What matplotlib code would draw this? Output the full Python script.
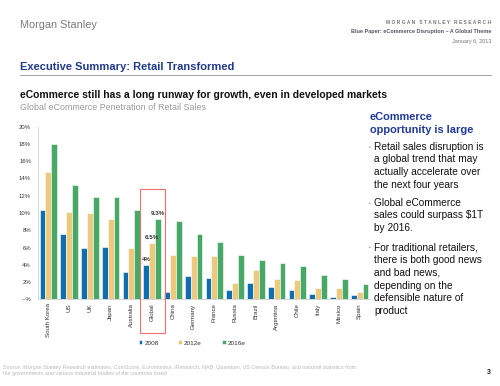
import matplotlib
matplotlib.use('Agg')
import matplotlib.pyplot as plt
from matplotlib.patches import Rectangle
import numpy as np

plt.rcParams['font.family'] = ['Liberation Sans', 'DejaVu Sans']

# data (% of retail sales)
countries = ['South Korea', 'US', 'UK', 'Japan', 'Australia', 'Global', 'China',
             'Germany', 'France', 'Russia', 'Brazil', 'Argentina', 'Chile',
             'Italy', 'Mexico', 'Spain']
pen_2008 = [10.4, 7.6, 5.9, 6.1, 3.2, 4.0, 0.8, 2.7, 2.5, 1.05, 1.85, 1.4, 1.1, 0.6, 0.25, 0.45]
pen_2012 = [14.7, 10.1, 10.0, 9.3, 5.9, 6.5, 5.1, 5.0, 5.05, 1.9, 3.4, 2.4, 2.2, 1.3, 1.35, 0.9]
pen_2016 = [18.0, 13.3, 11.8, 11.8, 10.3, 9.3, 9.1, 7.6, 6.6, 5.1, 4.5, 4.2, 3.9, 2.8, 2.3, 1.8]
series_names = ['2008', '2012e', '2016e']
yticks = [0, 2, 4, 6, 8, 10, 12, 14, 16, 18, 20]
highlight = 'Global'

colors = ['#0f6fae', '#ecc97c', '#47a965']

W, H = 500, 386
def fx(px): return px / W
def fy(py): return 1 - py / H

fig = plt.figure(figsize=(5, 3.86), dpi=100)

ax = fig.add_axes([fx(38), fy(299.3), fx(370) - fx(38), fy(126.7) - fy(299.3)])
x = np.arange(len(countries))
bw = 0.285
for k, (vals, name) in enumerate(zip([pen_2008, pen_2012, pen_2016], series_names)):
    ax.bar(x + (k - 1) * bw, vals, width=bw, color=colors[k], edgecolor='white',
           linewidth=0.4, label=name, zorder=2)

ax.set_xlim(-0.5, len(countries) - 0.5)
ax.set_ylim(0, 20)
ax.set_yticks(yticks)
ax.set_yticklabels(['–%' if t == 0 else f'{t}%' for t in yticks])
ax.set_xticks(x)
ax.set_xticklabels(countries, rotation=90, va='top', ha='center')
ax.tick_params(axis='y', length=0, pad=5, labelsize=4.3, labelcolor='#333333')
ax.tick_params(axis='x', length=0, pad=3, labelsize=4.4, labelcolor='#333333')
for s in ['top', 'right']:
    ax.spines[s].set_visible(False)
for s in ['left', 'bottom']:
    ax.spines[s].set_color('#d0d0d0')
    ax.spines[s].set_linewidth(0.6)

# highlight box and labels for Global
gi = countries.index(highlight)
ax.add_patch(Rectangle((gi - 0.6, -3.9), 1.22, 16.7, fill=False, edgecolor='#f07070',
                       linewidth=0.8, clip_on=False, zorder=3))
lbls = ['4%', '6.5%', '9.3%']
for k, vals in enumerate([pen_2008, pen_2012, pen_2016]):
    ax.text(gi + (k - 1) * bw, vals[gi] + 0.35, lbls[k], ha='center', va='bottom',
            fontsize=4.5, fontweight='bold', color='#333333', zorder=4)

fig.legend(loc='center', bbox_to_anchor=(fx(192), fy(343)), ncol=3, frameon=False,
           fontsize=4.6, handlelength=0.6, handleheight=0.6, handletextpad=0.3,
           columnspacing=3.1, labelcolor='#333333')

# header
fig.text(fx(20), fy(25), 'Morgan Stanley', fontsize=7.8, color='#7a7a7a', va='center')
fig.text(fx(491), fy(23), 'M O R G A N   S T A N L E Y   R E S E A R C H', fontsize=3.55,
         color='#777777', ha='right', va='center', fontweight='bold')
fig.text(fx(491), fy(32), 'Blue Paper: eCommerce Disruption – A Global Theme', fontsize=4.0,
         color='#555566', ha='right', va='center', fontweight='bold')
fig.text(fx(491), fy(41), 'January 6, 2013', fontsize=4.0, color='#777777', ha='right', va='center')
fig.text(fx(20), fy(67), 'Executive Summary: Retail Transformed', fontsize=8.0, color='#1f3a8a',
         fontweight='bold', va='center')
fig.add_artist(plt.Line2D([fx(20), fx(491)], [fy(74.5), fy(74.5)], color='#a0a0a0', linewidth=0.7))
fig.text(fx(20), fy(95), 'eCommerce still has a long runway for growth, even in developed markets',
         fontsize=7.5, fontweight='bold', color='#111111', va='center')
fig.text(fx(20), fy(107), 'Global eCommerce Penetration of Retail Sales', fontsize=6.4,
         color='#999999', va='center')

# right panel
fig.text(fx(370), fy(112), 'eCommerce\nopportunity is large', fontsize=7.9, fontweight='bold',
         color='#1f3a99', va='top', linespacing=1.32)
bullets = [
    (141.5, 'Retail sales disruption is\na global trend that may\nactually accelerate over\nthe next four years'),
    (197.5, 'Global eCommerce\nsales could surpass $1T\nby 2016.'),
    (242.5, 'For traditional retailers,\nthere is both good news\nand bad news,\ndepending on the\ndefensible nature of\nproduct'),
]
for ypos, txt in bullets:
    fig.text(fx(369), fy(ypos + 5.5), '•', fontsize=3.5, color='#888888', va='center')
    fig.text(fx(374), fy(ypos), txt, fontsize=7.3, color='#111111', va='top', linespacing=1.34)

# footer
fig.text(fx(3), fy(371), 'Source: Morgan Stanley Research estimates, ComScore, Euromonitor, iResearch, NAB, '
         'Quantium, US Census Bureau, and national statistics from\nthe governments and various '
         'industrial bodies of the countries listed', fontsize=3.9, color='#b8b8b8', va='center',
         linespacing=1.25)
fig.text(fx(491), fy(373), '3', fontsize=5, fontweight='bold', color='#222222', ha='right', va='center')

fig.savefig('out.png', dpi=100)
